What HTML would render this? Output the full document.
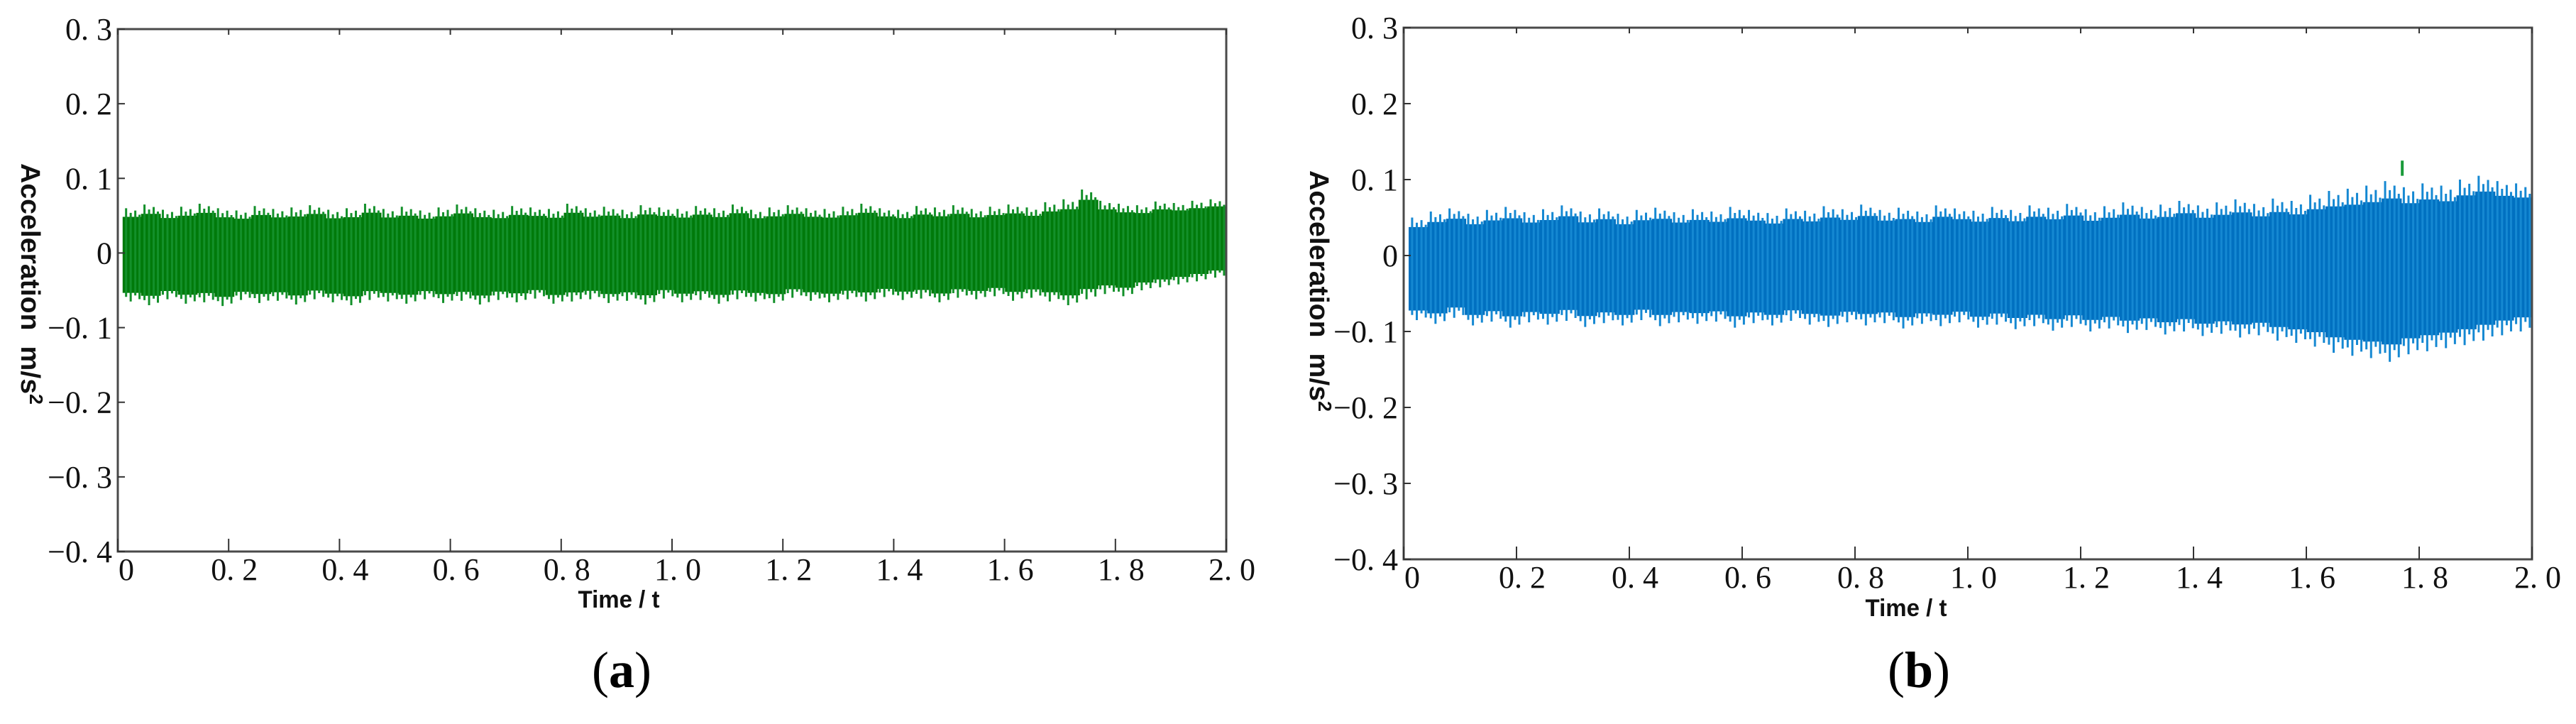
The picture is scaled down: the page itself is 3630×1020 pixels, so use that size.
<!DOCTYPE html>
<html><head><meta charset="utf-8"><style>
html,body{margin:0;padding:0;background:#fff;}
svg{display:block;}
</style></head><body>
<svg id="fig" width="3630" height="1020" viewBox="0 0 3630 1020" xmlns="http://www.w3.org/2000/svg"></svg>
<script>
// Shared axis data
const yTicks = [0.3, 0.2, 0.1, 0, -0.1, -0.2, -0.3, -0.4];
const yTickLabels = ["0. 3","0. 2","0. 1","0","\u22120. 1","\u22120. 2","\u22120. 3","\u22120. 4"];
const xTicks = [0, 0.2, 0.4, 0.6, 0.8, 1.0, 1.2, 1.4, 1.6, 1.8, 2.0];
const xTickLabels = ["0","0. 2","0. 4","0. 6","0. 8","1. 0","1. 2","1. 4","1. 6","1. 8","2. 0"];
// Panel (a): per-bin max / min of the green signal (60 bins over 0.01–2.0 s)
const aUpper = [0.060,0.065,0.058,0.062,0.066,0.060,0.057,0.063,0.059,0.061,0.064,0.058,0.060,0.066,0.059,0.062,0.057,0.061,0.065,0.060,0.058,0.063,0.061,0.059,0.066,0.060,0.062,0.058,0.064,0.061,0.059,0.063,0.060,0.065,0.058,0.061,0.064,0.060,0.059,0.062,0.066,0.060,0.058,0.063,0.061,0.064,0.059,0.062,0.065,0.061,0.068,0.072,0.085,0.070,0.066,0.064,0.069,0.067,0.070,0.072];
const aLower = [-0.065,-0.070,-0.062,-0.068,-0.066,-0.071,-0.063,-0.067,-0.064,-0.069,-0.062,-0.066,-0.070,-0.063,-0.065,-0.068,-0.062,-0.067,-0.064,-0.069,-0.063,-0.066,-0.061,-0.068,-0.065,-0.062,-0.067,-0.064,-0.069,-0.061,-0.066,-0.063,-0.068,-0.062,-0.065,-0.067,-0.060,-0.064,-0.066,-0.062,-0.065,-0.059,-0.063,-0.061,-0.066,-0.060,-0.062,-0.058,-0.064,-0.060,-0.065,-0.070,-0.062,-0.055,-0.058,-0.050,-0.046,-0.042,-0.038,-0.033];
// Panel (b): per-bin max / min of the blue signal
const bUpper = [0.050,0.058,0.062,0.055,0.060,0.064,0.057,0.061,0.066,0.058,0.062,0.055,0.060,0.063,0.057,0.061,0.058,0.064,0.060,0.056,0.062,0.059,0.065,0.061,0.067,0.060,0.063,0.058,0.066,0.062,0.059,0.064,0.060,0.066,0.063,0.068,0.061,0.065,0.070,0.064,0.067,0.072,0.066,0.070,0.074,0.068,0.075,0.072,0.080,0.085,0.088,0.092,0.098,0.090,0.095,0.092,0.100,0.105,0.098,0.095];
const bLower = [-0.085,-0.090,-0.082,-0.092,-0.087,-0.095,-0.088,-0.091,-0.086,-0.094,-0.089,-0.092,-0.085,-0.093,-0.088,-0.090,-0.087,-0.095,-0.089,-0.092,-0.086,-0.091,-0.094,-0.088,-0.092,-0.089,-0.096,-0.090,-0.093,-0.088,-0.095,-0.091,-0.097,-0.093,-0.099,-0.094,-0.100,-0.096,-0.102,-0.098,-0.104,-0.100,-0.106,-0.103,-0.108,-0.105,-0.112,-0.115,-0.120,-0.128,-0.132,-0.135,-0.140,-0.130,-0.126,-0.122,-0.118,-0.112,-0.105,-0.100];
const bSpikeT = [1.77];
const bSpikeV = [0.125];

const NS = "http://www.w3.org/2000/svg";
const svg = document.getElementById('fig');
function mk(tag, attrs, parent){
  const e = document.createElementNS(NS, tag);
  for (const k in attrs) e.setAttribute(k, attrs[k]);
  (parent||svg).appendChild(e);
  return e;
}

function panel(cfg){
  const g = mk('g', {});
  
  
  const sx = v => cfg.x0 + (v - 0) / 2.0 * (cfg.x1 - cfg.x0);
  const sy = v => cfg.y0 + (0.3 - v) / 0.7 * (cfg.y1 - cfg.y0);
  const sg = mk('g', {}, g);
  
  
  const n = cfg.upper.length, t0 = 0.01, dt = (2.0 - t0) / n;
  const mid = i => (cfg.upper[i] + cfg.lower[i]) / 2;
  let top = '', bot = '';
  for (let i = 0; i < n; i++){
    const xa = sx(t0 + i*dt), xb = sx(t0 + (i+1)*dt);
    const m = mid(i), h = (cfg.upper[i] - cfg.lower[i]) / 2 * 0.8;
    top += (i ? ' L' : 'M') + xa.toFixed(1) + ',' + sy(m + h).toFixed(1) + ' L' + xb.toFixed(1) + ',' + sy(m + h).toFixed(1);
  }
  for (let i = n-1; i >= 0; i--){
    const xa = sx(t0 + i*dt), xb = sx(t0 + (i+1)*dt);
    const m = mid(i), h = (cfg.upper[i] - cfg.lower[i]) / 2 * 0.8;
    bot += ' L' + xb.toFixed(1) + ',' + sy(m - h).toFixed(1) + ' L' + xa.toFixed(1) + ',' + sy(m - h).toFixed(1);
  }
  const p = mk('path', {d: top + bot + ' Z', fill: cfg.color, stroke: cfg.color, 'stroke-width': 2}, sg);
  
  
  const offs = [0.15, 0.4, 0.65, 0.88];
  for (let i = 0; i < n; i++){
    offs.forEach((o, k) => {
      const xm = sx(t0 + (i+o)*dt);
      const m = mid(i), h = (cfg.upper[i] - cfg.lower[i]) / 2;
      const fu = [1.0, 0.9, 0.95, 0.86][k], fl = [0.9, 1.0, 0.87, 0.95][k];
      const l1 = mk('line', {x1: xm, x2: xm, y1: sy(m + h*fu), y2: sy(m - h*fl), stroke: cfg.light, 'stroke-width': 3}, sg);
      
      
    });
  }
  (cfg.spikeT||[]).forEach((t, i) => {
    const l = mk('line', {x1: sx(t), x2: sx(t), y1: sy(cfg.spikeV[i]), y2: sy(cfg.spikeV[i]-0.02), stroke: '#1a9a3a', 'stroke-width': 4}, sg);
    
    
  });
  const box = mk('rect', {x: cfg.x0, y: cfg.y0, width: cfg.x1-cfg.x0, height: cfg.y1-cfg.y0, fill: 'none', stroke: '#4a4a4a', 'stroke-width': 3}, g);
  
  
  yTicks.forEach((v, i) => {
    const y = sy(v);
    const t = mk('line', {x1: cfg.x0, x2: cfg.x0+10, y1: y, y2: y, stroke: '#333', 'stroke-width': 2}, g);
    
    
    const lb = mk('text', {x: cfg.x0-8, y: y+15, 'text-anchor': 'end', 'font-family': '"Liberation Serif", serif', 'font-size': 44, fill: '#111'}, g);
    lb.textContent = yTickLabels[i];
    
    
  });
  xTicks.forEach((v, i) => {
    const x = sx(v);
    const t = mk('line', {x1: x, x2: x, y1: cfg.y1, y2: cfg.y1-18, stroke: '#333', 'stroke-width': 2}, g);
    
    
    const t2 = mk('line', {x1: x, x2: x, y1: cfg.y0, y2: cfg.y0+8, stroke: '#333', 'stroke-width': 2}, g);
    
    
    const lb = mk('text', {x: i === 0 ? x+12 : x+8, y: cfg.y1+40, 'text-anchor': 'middle', 'font-family': '"Liberation Serif", serif', 'font-size': 44, fill: '#111'}, g);
    lb.textContent = xTickLabels[i];
    
    
  });
  const yt = mk('text', {x: 0, y: 0, transform: 'translate(' + (cfg.ytx) + ',' + (cfg.yty) + ') rotate(90)', 'text-anchor': 'middle', 'font-family': '"Liberation Sans", sans-serif', 'font-weight': 'bold', 'font-size': 38, fill: '#111', textLength: 340, lengthAdjust: 'spacingAndGlyphs'}, g);
  yt.innerHTML = 'Acceleration&#160;&#160;m/s<tspan dy="-12" font-size="26">2</tspan>';
  
  
  const xt = mk('text', {x: cfg.xtx, y: cfg.xty, 'text-anchor': 'middle', 'font-family': '"Liberation Sans", sans-serif', 'font-weight': 'bold', 'font-size': 34, fill: '#111', textLength: 115, lengthAdjust: 'spacingAndGlyphs'}, g);
  xt.textContent = 'Time / t';
  
  
  const cp = mk('text', {x: cfg.capx, y: 968, 'text-anchor': 'middle', 'font-family': '"Liberation Serif", serif', 'font-size': 72, fill: '#000'}, g);
  cp.innerHTML = '(<tspan font-weight="bold">' + cfg.cap + '</tspan>)';
  
  
}

panel({name: 'panel-a', seriesName: 'series-a-green', x0: 166, x1: 1728, y0: 41, y1: 777, upper: aUpper, lower: aLower,
  color: '#007a0a', light: '#13902a', ytx: 30, yty: 400, xtx: 872, xty: 856, capx: 876, cap: 'a'});
panel({name: 'panel-b', seriesName: 'series-b-blue', x0: 1978, x1: 3568, y0: 39, y1: 788, upper: bUpper, lower: bLower,
  spikeT: bSpikeT, spikeV: bSpikeV,
  color: '#0070c0', light: '#1588d2', ytx: 1846, yty: 410, xtx: 2686, xty: 868, capx: 2704, cap: 'b'});
</script>
</body></html>
